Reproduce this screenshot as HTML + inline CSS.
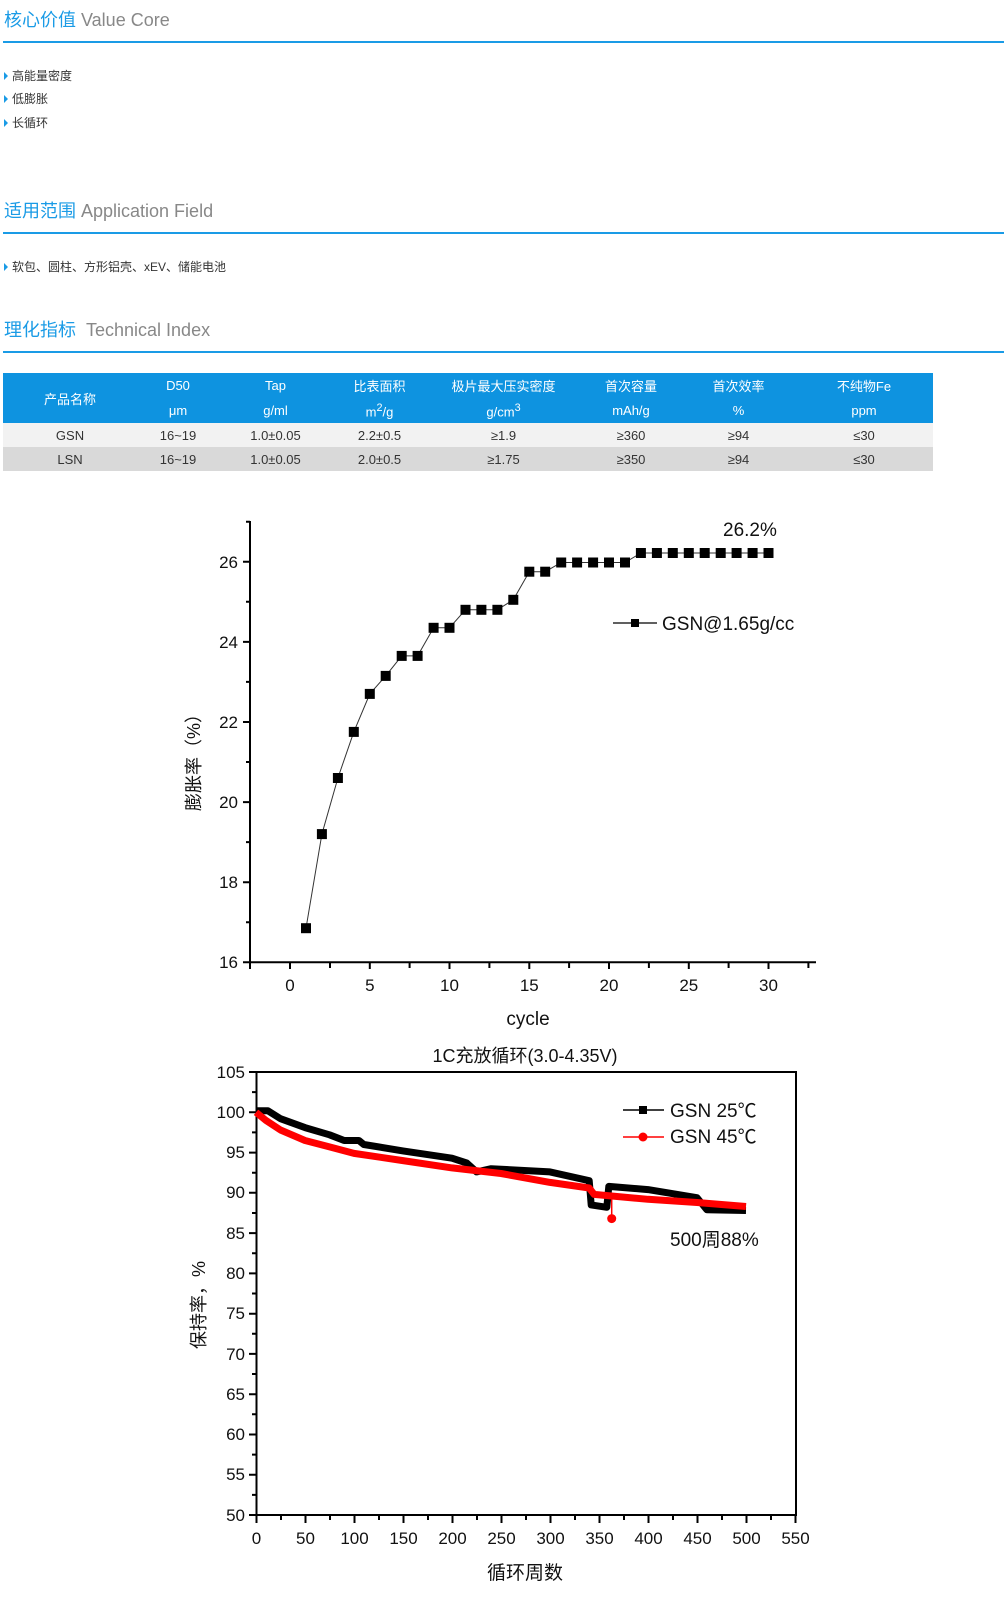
<!DOCTYPE html>
<html><head><meta charset="utf-8"><style>
body{margin:0;width:1006px;height:1619px;background:#fff;position:relative;overflow:hidden;font-family:"Liberation Sans","Noto Sans CJK SC",sans-serif}
.t{position:absolute;left:4px;font-size:18px;line-height:22px;color:#888}
.t b{font-weight:normal;color:#1a9be6}
.ln{position:absolute;left:3px;width:1001px;height:2px;background:#1a9be6}
.bl{position:absolute;left:4px;font-size:12px;line-height:16px;color:#333}
.bl:before{content:"";display:inline-block;border-left:4px solid #1a9be6;border-top:4px solid transparent;border-bottom:4px solid transparent;margin-right:4px;vertical-align:0}
table{position:absolute;left:3px;top:373px;width:930px;border-collapse:collapse;font-size:13px;text-align:center}
th{background:#0e93e0;color:#fff;font-weight:normal;height:25px;padding:0}
td{height:24px;padding:0;color:#333}
.r1 td{background:#f2f2f2}.r2 td{background:#d9d9d9}
svg{position:absolute;left:0;top:0}
svg text{font-family:"Liberation Sans","Noto Sans CJK SC",sans-serif;fill:#111}
</style></head><body>
<div class="t" style="top:9px"><b>核心价值</b> Value Core</div>
<div class="ln" style="top:41px"></div>
<div class="bl" style="top:68px">高能量密度</div>
<div class="bl" style="top:91px">低膨胀</div>
<div class="bl" style="top:115px">长循环</div>
<div class="t" style="top:200px"><b>适用范围</b> Application Field</div>
<div class="ln" style="top:232px"></div>
<div class="bl" style="top:259px">软包、圆柱、方形铝壳、xEV、储能电池</div>
<div class="t" style="top:319px"><b>理化指标</b>&nbsp; Technical Index</div>
<div class="ln" style="top:351px"></div>
<table>
<tr><th rowspan="2" style="width:134px">产品名称</th><th style="width:82px">D50</th><th style="width:113px">Tap</th><th style="width:95px">比表面积</th><th style="width:153px">极片最大压实密度</th><th style="width:102px">首次容量</th><th style="width:113px">首次效率</th><th>不纯物Fe</th></tr>
<tr><th>μm</th><th>g/ml</th><th>m<sup>2</sup>/g</th><th>g/cm<sup>3</sup></th><th>mAh/g</th><th>%</th><th>ppm</th></tr>
<tr class="r1"><td>GSN</td><td>16~19</td><td>1.0±0.05</td><td>2.2±0.5</td><td>≥1.9</td><td>≥360</td><td>≥94</td><td>≤30</td></tr>
<tr class="r2"><td>LSN</td><td>16~19</td><td>1.0±0.05</td><td>2.0±0.5</td><td>≥1.75</td><td>≥350</td><td>≥94</td><td>≤30</td></tr>
</table>

<svg width="1006" height="1619" viewBox="0 0 1006 1619">
<!-- Chart 1 -->
<g stroke="#000" stroke-width="2" fill="none">
<path d="M250,521V962.3H816"/>
<path d="M243,962.3h7M243,882.2h7M243,802.1h7M243,722h7M243,641.9h7M243,561.7h7"/>
<path d="M246,922.2h4M246,842.1h4M246,762h4M246,681.9h4M246,601.8h4M246,521.7h4"/>
<path d="M250,962v7M290,962v7M330,962v6M369.8,962v7M409.6,962v6M449.5,962v7M489.4,962v6M529.3,962v7M569.1,962v6M609,962v7M648.9,962v6M688.8,962v7M728.6,962v6M768.5,962v7M808.4,962v6"/>
</g>
<g font-size="17" text-anchor="end">
<text x="238" y="968">16</text><text x="238" y="888">18</text><text x="238" y="808">20</text><text x="238" y="728">22</text><text x="238" y="648">24</text><text x="238" y="568">26</text>
</g>
<g font-size="17" text-anchor="middle">
<text x="290" y="991">0</text><text x="369.8" y="991">5</text><text x="449.5" y="991">10</text><text x="529.3" y="991">15</text><text x="609" y="991">20</text><text x="688.8" y="991">25</text><text x="768.5" y="991">30</text>
</g>
<text x="528" y="1025" font-size="19" text-anchor="middle">cycle</text>
<text transform="translate(200,758) rotate(-90)" font-size="18" text-anchor="middle">膨胀率（%）</text>
<text x="723" y="536" font-size="19">26.2%</text>
<polyline fill="none" stroke="#333" stroke-width="1" points="306,928.2 321.9,834.1 337.9,778 353.8,731.9 369.8,693.9 385.7,675.9 401.7,655.9 417.6,655.9 433.6,627.8 449.5,627.8 465.5,609.8 481.4,609.8 497.4,609.8 513.3,599.8 529.3,571.7 545.2,571.7 561.2,562.5 577.1,562.5 593.1,562.5 609,562.5 625,562.5 640.9,553 656.9,553 672.8,553 688.8,553 704.7,553 720.7,553 736.6,553 752.6,553 768.5,553"/>
<g fill="#000">
<rect x="301" y="923.2" width="10" height="10"/><rect x="316.9" y="829.1" width="10" height="10"/><rect x="332.9" y="773" width="10" height="10"/><rect x="348.8" y="726.9" width="10" height="10"/><rect x="364.8" y="688.9" width="10" height="10"/><rect x="380.7" y="670.9" width="10" height="10"/><rect x="396.7" y="650.9" width="10" height="10"/><rect x="412.6" y="650.9" width="10" height="10"/><rect x="428.6" y="622.8" width="10" height="10"/><rect x="444.5" y="622.8" width="10" height="10"/><rect x="460.5" y="604.8" width="10" height="10"/><rect x="476.4" y="604.8" width="10" height="10"/><rect x="492.4" y="604.8" width="10" height="10"/><rect x="508.3" y="594.8" width="10" height="10"/><rect x="524.3" y="566.7" width="10" height="10"/><rect x="540.2" y="566.7" width="10" height="10"/><rect x="556.2" y="557.5" width="10" height="10"/><rect x="572.1" y="557.5" width="10" height="10"/><rect x="588.1" y="557.5" width="10" height="10"/><rect x="604" y="557.5" width="10" height="10"/><rect x="620" y="557.5" width="10" height="10"/><rect x="635.9" y="548" width="10" height="10"/><rect x="651.9" y="548" width="10" height="10"/><rect x="667.8" y="548" width="10" height="10"/><rect x="683.8" y="548" width="10" height="10"/><rect x="699.7" y="548" width="10" height="10"/><rect x="715.7" y="548" width="10" height="10"/><rect x="731.6" y="548" width="10" height="10"/><rect x="747.6" y="548" width="10" height="10"/><rect x="763.5" y="548" width="10" height="10"/>
</g>
<path d="M613,623H657" stroke="#000" stroke-width="1.2"/><rect x="631" y="619" width="8" height="8"/>
<text x="662" y="630" font-size="19">GSN@1.65g/cc</text>

<!-- Chart 2 -->
<text x="525" y="1062" font-size="18" text-anchor="middle">1C充放循环(3.0-4.35V)</text>
<rect x="256.5" y="1072" width="539.5" height="443" fill="none" stroke="#000" stroke-width="2"/>
<g stroke="#000" stroke-width="2">
<path d="M249,1072h8M249,1112.3h8M249,1152.6h8M249,1192.8h8M249,1233.1h8M249,1273.4h8M249,1313.7h8M249,1353.9h8M249,1394.2h8M249,1434.5h8M249,1474.7h8M249,1515h8"/>
<path d="M252,1092.1h4M252,1132.4h4M252,1172.7h4M252,1213h4M252,1253.2h4M252,1293.5h4M252,1333.8h4M252,1374h4M252,1414.3h4M252,1454.6h4M252,1494.9h4"/>
<path d="M256.5,1515v8M305.5,1515v8M354.5,1515v8M403.5,1515v8M452.5,1515v8M501.5,1515v8M550.5,1515v8M599.5,1515v8M648.5,1515v8M697.5,1515v8M746.5,1515v8M795.5,1515v8"/>
<path d="M281,1515v5M330,1515v5M379,1515v5M428,1515v5M477,1515v5M526,1515v5M575,1515v5M624,1515v5M673,1515v5M722,1515v5M771,1515v5"/>
</g>
<g font-size="17" text-anchor="end">
<text x="245" y="1078">105</text><text x="245" y="1118">100</text><text x="245" y="1158">95</text><text x="245" y="1198">90</text><text x="245" y="1239">85</text><text x="245" y="1279">80</text><text x="245" y="1319">75</text><text x="245" y="1360">70</text><text x="245" y="1400">65</text><text x="245" y="1440">60</text><text x="245" y="1480">55</text><text x="245" y="1521">50</text>
</g>
<g font-size="17" text-anchor="middle">
<text x="256.5" y="1544">0</text><text x="305.5" y="1544">50</text><text x="354.5" y="1544">100</text><text x="403.5" y="1544">150</text><text x="452.5" y="1544">200</text><text x="501.5" y="1544">250</text><text x="550.5" y="1544">300</text><text x="599.5" y="1544">350</text><text x="648.5" y="1544">400</text><text x="697.5" y="1544">450</text><text x="746.5" y="1544">500</text><text x="795.5" y="1544">550</text>
</g>
<text x="525" y="1579" font-size="19" text-anchor="middle">循环周数</text>
<text transform="translate(205,1305) rotate(-90)" font-size="18" text-anchor="middle">保持率，%</text>
<polyline fill="none" stroke="#000" stroke-width="7" stroke-linejoin="round" points="256,1110.7 267.8,1110.7 280.5,1118.7 305,1127.6 329.5,1134.8 344.2,1140.5 358.9,1140.5 363.8,1144.5 403,1150.9 452,1158.2 466.7,1163 476.5,1171.9 491.2,1168.7 550,1171.9 589.2,1180.7 591.2,1204.9 606.8,1207.3 608.8,1186.4 648,1189.6 697,1197.7 706.8,1209.7 746,1210.5"/>
<polyline fill="none" stroke="#f00" stroke-width="7" stroke-linejoin="round" points="256,1112.3 265.8,1120.3 280.5,1130 305,1140.5 329.5,1146.9 354,1153.4 403,1160.6 452,1167.9 501,1173.5 550,1182.4 589.2,1188 594.1,1194.4 648,1199.3 697,1202.5 746,1206.5"/>
<path d="M611.7,1196V1218" stroke="#f00" stroke-width="1.5"/><circle cx="611.7" cy="1218.6" r="4.5" fill="#f00"/>
<path d="M623,1110H664" stroke="#000" stroke-width="1.5"/><rect x="639" y="1106" width="8" height="8"/>
<path d="M623,1137H664" stroke="#f00" stroke-width="1.5"/><circle cx="643" cy="1137" r="4.5" fill="#f00"/>
<text x="670" y="1117" font-size="19">GSN 25℃</text>
<text x="670" y="1143" font-size="19">GSN 45℃</text>
<text x="670" y="1246" font-size="19">500周88%</text>
</svg>
</body></html>
